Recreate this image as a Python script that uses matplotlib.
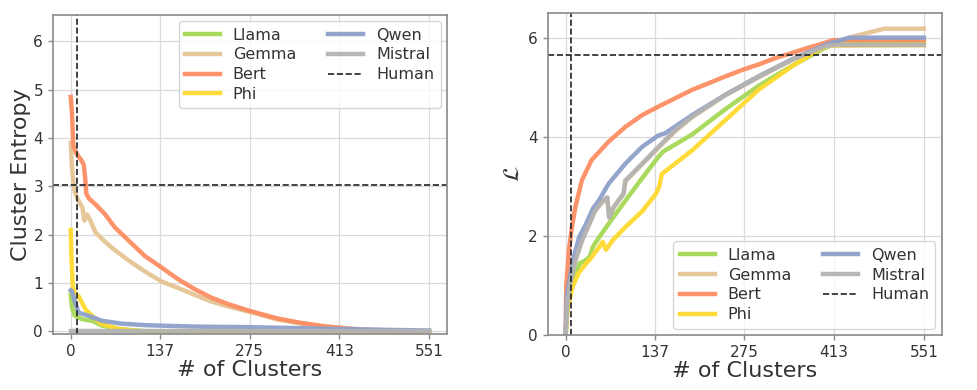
import matplotlib
matplotlib.use("Agg")
import matplotlib.pyplot as plt

plt.rcParams['font.family'] = ['DejaVu Sans']

models = ["Llama", "Gemma", "Bert", "Phi", "Qwen", "Mistral"]
colors = ["#a6d854", "#e5c494", "#fc8d62", "#ffd92f", "#8da0cb", "#b3b3b3"]
xticks = [0, 137, 275, 413, 551]

# ---- Left panel: Cluster Entropy vs # of clusters ----
ent_llama_x = [0, 2, 6, 10, 18, 33, 48, 70, 89, 120, 551]
ent_llama_y = [0.76, 0.5, 0.33, 0.3, 0.25, 0.22, 0.12, 0.06, 0.03, 0.0, 0.0]

ent_gemma_x = [0, 2, 4, 6, 10, 18, 21, 25, 30, 38, 53, 68, 89, 114, 140, 165, 190, 216, 241, 274, 317, 368, 411, 440, 469, 500, 551]
ent_gemma_y = [3.9, 3.4, 3.1, 2.9, 2.75, 2.56, 2.29, 2.42, 2.3, 2.05, 1.85, 1.68, 1.47, 1.24, 1.03, 0.9, 0.76, 0.62, 0.52, 0.41, 0.25, 0.13, 0.08, 0.05, 0.03, 0.01, 0.0]

ent_bert_x = [0, 2, 4, 8, 12, 16, 20, 22, 24, 28, 38, 53, 68, 89, 114, 140, 165, 190, 216, 241, 274, 317, 353, 393, 411, 444, 495, 551]
ent_bert_y = [4.85, 4.5, 3.85, 3.7, 3.62, 3.55, 3.45, 3.2, 2.85, 2.75, 2.63, 2.42, 2.15, 1.88, 1.56, 1.32, 1.08, 0.88, 0.7, 0.57, 0.43, 0.27, 0.18, 0.1, 0.08, 0.03, 0.01, 0.0]

ent_phi_x = [0, 1, 3, 6, 12, 23, 33, 48, 74, 110, 551]
ent_phi_y = [2.1, 1.6, 0.95, 0.8, 0.73, 0.45, 0.32, 0.15, 0.05, 0.0, 0.0]

ent_qwen_x = [0, 2, 7, 12, 28, 48, 79, 114, 190, 266, 343, 419, 495, 551]
ent_qwen_y = [0.85, 0.83, 0.59, 0.39, 0.32, 0.22, 0.16, 0.13, 0.1, 0.09, 0.07, 0.05, 0.03, 0.02]

ent_mistral_x = [0, 551]
ent_mistral_y = [0.0, 0.0]

human_entropy = 3.03
human_clusters = 9

# ---- Right panel: L vs # of clusters ----
l_llama_x = [0, 3, 8, 15, 22, 30, 37, 42, 52, 67, 78, 93, 114, 143, 150, 195, 246, 297, 348, 400, 420, 551]
l_llama_y = [0.0, 0.6, 0.95, 1.25, 1.45, 1.5, 1.58, 1.78, 1.98, 2.26, 2.46, 2.73, 3.1, 3.6, 3.7, 4.05, 4.56, 5.03, 5.43, 5.8, 5.9, 5.9]

l_gemma_x = [0, 3, 8, 15, 25, 35, 45, 55, 64, 67, 74, 89, 92, 118, 143, 169, 195, 246, 297, 348, 400, 413, 450, 490, 551]
l_gemma_y = [0.0, 0.7, 1.1, 1.5, 1.9, 2.2, 2.5, 2.66, 2.76, 2.4, 2.58, 2.85, 3.1, 3.45, 3.78, 4.12, 4.4, 4.84, 5.2, 5.55, 5.82, 5.9, 6.05, 6.18, 6.18]

l_bert_x = [0, 1, 5, 10, 15, 25, 40, 66, 92, 118, 143, 169, 195, 220, 246, 274, 297, 323, 348, 374, 400, 411, 551]
l_bert_y = [0.0, 1.0, 1.7, 2.2, 2.58, 3.12, 3.53, 3.9, 4.2, 4.44, 4.61, 4.78, 4.95, 5.08, 5.22, 5.36, 5.46, 5.59, 5.69, 5.8, 5.9, 5.95, 5.95]

l_phi_x = [0, 3, 10, 20, 32, 37, 52, 57, 62, 73, 93, 118, 139, 144, 148, 195, 246, 297, 348, 389, 405, 551]
l_phi_y = [0.0, 0.5, 0.95, 1.25, 1.45, 1.52, 1.78, 1.88, 1.72, 1.92, 2.19, 2.5, 2.85, 3.0, 3.25, 3.73, 4.34, 4.95, 5.42, 5.76, 5.84, 5.85]

l_qwen_x = [0, 2, 6, 12, 21, 30, 42, 51, 66, 92, 118, 143, 153, 195, 246, 297, 348, 400, 436, 551]
l_qwen_y = [0.0, 0.8, 1.1, 1.55, 1.98, 2.2, 2.55, 2.71, 3.05, 3.46, 3.8, 4.03, 4.07, 4.44, 4.85, 5.22, 5.56, 5.86, 6.0, 6.0]

l_mistral_x = [0, 3, 8, 15, 25, 35, 45, 55, 64, 67, 74, 89, 92, 118, 143, 169, 195, 246, 297, 348, 400, 413, 551]
l_mistral_y = [0.0, 0.7, 1.1, 1.5, 1.9, 2.2, 2.5, 2.68, 2.78, 2.37, 2.58, 2.85, 3.12, 3.46, 3.8, 4.14, 4.41, 4.85, 5.22, 5.56, 5.83, 5.85, 5.85]

human_L = 5.65

left_series = [(ent_llama_x, ent_llama_y), (ent_gemma_x, ent_gemma_y), (ent_bert_x, ent_bert_y),
               (ent_phi_x, ent_phi_y), (ent_qwen_x, ent_qwen_y), (ent_mistral_x, ent_mistral_y)]
right_series = [(l_llama_x, l_llama_y), (l_gemma_x, l_gemma_y), (l_bert_x, l_bert_y),
                (l_phi_x, l_phi_y), (l_qwen_x, l_qwen_y), (l_mistral_x, l_mistral_y)]

TXT = "#333333"
fig = plt.figure(figsize=(9.78, 3.9), dpi=100)
ax1 = fig.add_axes([0.054, 0.144, 0.403, 0.818])
ax2 = fig.add_axes([0.560, 0.141, 0.403, 0.826])


def style(ax):
    ax.grid(True, color="#dadada", linewidth=0.9)
    ax.set_axisbelow(True)
    for s in ax.spines.values():
        s.set_color("#8a8a8a")
        s.set_linewidth(1.2)
    ax.tick_params(colors="#8a8a8a", labelcolor=TXT, labelsize=11, length=3.5, width=1)
    ax.set_xticks(xticks)
    ax.set_xlabel("# of Clusters", fontsize=16, color=TXT, labelpad=1)


for (x, y), m, c in zip(left_series, models, colors):
    ax1.plot(x, y, color=c, lw=3.2, label=m, alpha=0.95)
ax1.axhline(human_entropy, color="#222222", ls="--", lw=1.2, label="Human")
ax1.axvline(human_clusters, color="#222222", ls="--", lw=1.2)
ax1.set_xlim(-27.55, 578.55)
ax1.set_ylim(-0.05, 6.55)
ax1.set_yticks([0, 1, 2, 3, 4, 5, 6])
style(ax1)
ax1.set_ylabel("Cluster Entropy", fontsize=16, color=TXT, labelpad=2)
ax1.legend(loc="upper right", ncol=2, fontsize=11.5, labelcolor=TXT,
           handlelength=2.2, columnspacing=2.0, labelspacing=0.3, borderaxespad=0.4)

for (x, y), m, c in zip(right_series, models, colors):
    ax2.plot(x, y, color=c, lw=3.2, label=m, alpha=0.95)
ax2.axhline(human_L, color="#222222", ls="--", lw=1.2, label="Human")
ax2.axvline(human_clusters, color="#222222", ls="--", lw=1.2)
ax2.set_xlim(-27.55, 578.55)
ax2.set_ylim(0, 6.5)
ax2.set_yticks([0, 2, 4, 6])
style(ax2)
ax2.set_ylabel(r"$\mathcal{L}$", fontsize=16, color=TXT, labelpad=4)
ax2.legend(loc="lower right", ncol=2, fontsize=11.5, labelcolor=TXT,
           handlelength=2.2, columnspacing=2.0, labelspacing=0.3, borderaxespad=0.4)

fig.savefig("out.png", dpi=100)
